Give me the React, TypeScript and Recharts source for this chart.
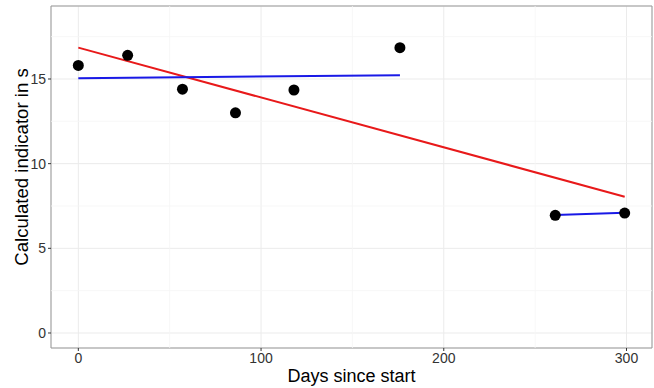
import { ComposedChart, Line, Scatter, XAxis, YAxis, CartesianGrid, ReferenceLine, ReferenceArea } from 'recharts'

const days = [0, 27, 57, 86, 118, 176, 261, 299]
const indicator = [15.8, 16.4, 14.4, 13.0, 14.35, 16.85, 6.95, 7.08]

const redFitDays = [0, 299]
const redFitValues = [16.85, 8.05]
const blueFitADays = [0, 176]
const blueFitAValues = [15.05, 15.22]
const blueFitBDays = [261, 299]
const blueFitBValues = [6.97, 7.1]

const xTicks = [0, 100, 200, 300]
const yTicks = [0, 5, 10, 15]
const xMinor = [50, 150, 250]
const yMinor = [2.5, 7.5, 12.5, 17.5]

const X_DOMAIN: [number, number] = [-14.95, 313.95]
const Y_DOMAIN: [number, number] = [-0.886, 19.31]

const toPoints = (xs: number[], ys: number[]) => xs.map((x, i) => ({ x, y: ys[i] }))

const points = toPoints(days, indicator)
const redFit = toPoints(redFitDays, redFitValues)
const blueFitA = toPoints(blueFitADays, blueFitAValues)
const blueFitB = toPoints(blueFitBDays, blueFitBValues)

const FONT = '"Liberation Sans", Arial, sans-serif'
const tickStyle = { fontSize: 14, fill: '#333', fontFamily: FONT }

function YTitle(props: any) {
  const vb = props.viewBox
  const cy = vb.y + vb.height / 2 - 10
  return (
    <text x={21} y={cy} transform={`rotate(-90, 21, ${cy})`} textAnchor="middle" dominantBaseline="central"
      fontSize={18.6} fontFamily={FONT} fill="#000">
      Calculated indicator in s
    </text>
  )
}

function XTitle(props: any) {
  const vb = props.viewBox
  const cx = vb.x + vb.width / 2
  return (
    <text x={cx} y={382} textAnchor="middle" fontSize={18} fontFamily={FONT} fill="#000">
      Days since start
    </text>
  )
}

export default function App() {
  return (
    <div style={{ position: 'absolute', left: 0, top: 0, background: '#fff' }}>
      <ComposedChart width={654} height={388} margin={{ top: 6, right: 2, bottom: 0, left: 0 }}>
        <CartesianGrid stroke="#ebebeb" strokeWidth={1} />
        {xMinor.map((v) => (
          <ReferenceLine key={'xm' + v} x={v} stroke="#f5f5f5" strokeWidth={0.8} />
        ))}
        {yMinor.map((v) => (
          <ReferenceLine key={'ym' + v} y={v} stroke="#f5f5f5" strokeWidth={0.8} />
        ))}
        <XAxis type="number" dataKey="x" domain={X_DOMAIN} ticks={xTicks} allowDataOverflow
          height={40} axisLine={false} tickSize={3} tickMargin={2} tickLine={{ stroke: '#333' }}
          tick={tickStyle} label={<XTitle />} />
        <YAxis type="number" dataKey="y" domain={Y_DOMAIN} ticks={yTicks} allowDataOverflow
          width={51} axisLine={false} tickSize={3} tickMargin={2} tickLine={{ stroke: '#333' }}
          tick={tickStyle} label={<YTitle />} />
        <ReferenceArea x1={X_DOMAIN[0]} x2={X_DOMAIN[1]} y1={Y_DOMAIN[0]} y2={Y_DOMAIN[1]}
          fill="none" fillOpacity={0} stroke="#999" strokeWidth={1} />
        <Scatter data={points} fill="#000" isAnimationActive={false}
          shape={(p: any) => <circle cx={p.cx} cy={p.cy} r={5.5} fill="#000" />} />
        <Line data={redFit} dataKey="y" stroke="#e8191a" strokeWidth={2} dot={false} isAnimationActive={false} />
        <Line data={blueFitA} dataKey="y" stroke="#1919e6" strokeWidth={2} dot={false} isAnimationActive={false} />
        <Line data={blueFitB} dataKey="y" stroke="#1919e6" strokeWidth={2} dot={false} isAnimationActive={false} />
      </ComposedChart>
    </div>
  )
}
